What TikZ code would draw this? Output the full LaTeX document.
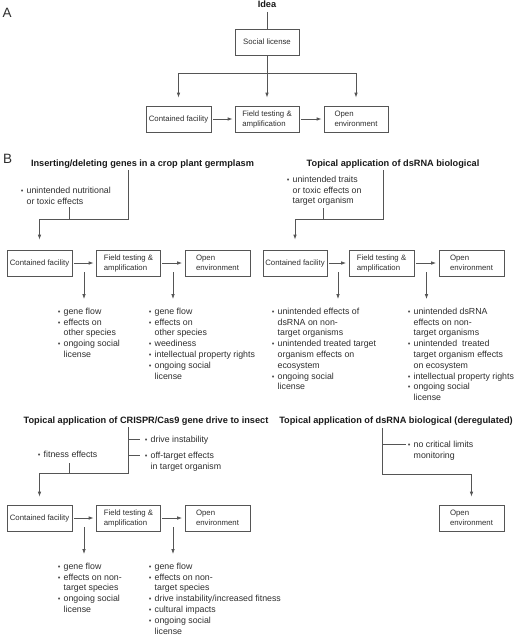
\documentclass[tikz,border=0pt]{standalone}
\usepackage{fontspec}
\setmainfont{Liberation Sans}
\usetikzlibrary{arrows.meta,calc}
\definecolor{linec}{HTML}{555555}
\definecolor{txtc}{HTML}{2E2E2E}
\definecolor{bulc}{HTML}{505050}
\newcommand\bul{\makebox[5.5pt][l]{\hspace*{-0.4pt}\textcolor{bulc}{\fontsize{7.5}{7.5}\selectfont\textbullet}}}
\newcommand\ind{\hspace*{5.5pt}}
\newcommand\fst{\rule{0pt}{7pt}}
\begin{document}
\begin{tikzpicture}[x=1pt,y=-1pt,
 box/.style={draw=linec,line width=0.75pt,minimum width=65pt,minimum height=26pt,inner sep=0pt,align=left,text=txtc,font=\fontsize{7.8}{10}\selectfont},
 ln/.style={draw=linec,line width=0.75pt},
 arr/.style={ln,-{Latex[length=5pt,width=3.6pt]}},
 ttl/.style={inner sep=0pt,anchor=base,text=black!90,font=\bfseries\fontsize{9.2}{11}\selectfont},
 lst/.style={inner sep=0pt,anchor=north west,align=left,text=txtc,font=\fontsize{8.8}{10.8}\selectfont},
 panel/.style={inner sep=0pt,anchor=base west,text=txtc,font=\fontsize{13.5}{14}\selectfont}]
\useasboundingbox (0,0) rectangle (520,635);

% ---------------- Panel A ----------------
\node[panel] (A) at (2.5,17.3) {A};
\node[ttl] (idea) at (267,7.5) {Idea};
\node[box,minimum width=64pt] (soc) at (267,42) {Social license};
\node[box] (cfA) at (178.5,119) {Contained facility};
\node[box,minimum width=64pt] (ftA) at (267,119) {Field testing \&\\amplification};
\node[box,minimum width=64pt] (oeA) at (356,119) {Open\\environment};
\coordinate (hA) at (267,73);
\draw[ln,shorten <=4pt] (idea.south) -- (soc.north);
\draw[ln] (soc.south) -- (hA);
\draw[ln] (cfA.north |- hA) -- (oeA.north |- hA);
\foreach \b in {cfA,ftA,oeA} \draw[arr,shorten >=8pt] (\b.north |- hA) -- (\b.north);
\draw[arr,shorten <=1.5pt,shorten >=2pt] (cfA) -- (ftA);
\draw[arr,shorten <=1.5pt,shorten >=2pt] (ftA) -- (oeA);

% ---------------- Panel B ----------------
\node[panel] (B) at (3,163) {B};

% Section 1
\node[ttl] (t1) at (142.5,166.5) {Inserting/deleting genes in a crop plant germplasm};
\node[lst] (n1) at (21,186) {\fst\bul unintended nutritional\\\ind or toxic effects};
\node[box] (cf1) at (39.5,263) {Contained facility};
\node[box,minimum width=64pt] (ft1) at (128.5,263) {Field testing \&\\amplification};
\node[box] (oe1) at (217.5,263) {Open\\environment};
\coordinate (j1) at (39.5,219);
\coordinate (s1) at (69,207);
\draw[ln,shorten <=1.5pt] (t1.south -| ft1.north) |- (j1);
\draw[ln] (s1) -- (s1 |- j1);
\draw[arr,shorten >=10pt] (j1) -- (cf1.north);
\draw[arr,shorten <=1.5pt,shorten >=2.5pt] (cf1) -- (ft1);
\draw[arr,shorten <=1.5pt,shorten >=2.5pt] (ft1) -- (oe1);
\coordinate (d1a) at (84,272); \coordinate (d1b) at (84,299);
\coordinate (d1c) at (173,272); \coordinate (d1d) at (173,299);
\draw[arr] (d1a) -- (d1b);
\draw[arr] (d1c) -- (d1d);
\node[lst] (l1a) at (58,307) {\fst\bul gene flow\\\bul effects on\\\ind other species\\\bul ongoing social\\\ind license};
\node[lst] (l1b) at (149,307) {\fst\bul gene flow\\\bul effects on\\\ind other species\\\bul weediness\\\bul intellectual property rights\\\bul ongoing social\\\ind license};

% Section 2
\node[ttl] (t2) at (393,166.5) {Topical application of dsRNA biological};
\node[lst] (n2) at (287,175) {\fst\bul unintended traits\\\ind or toxic effects on\\\ind target organism};
\node[box,minimum width=64pt] (cf2) at (295,263) {Contained facility};
\node[box] (ft2) at (381.5,263) {Field testing \&\\amplification};
\node[box] (oe2) at (471.5,263) {Open\\environment};
\coordinate (j2) at (295,219);
\coordinate (v2) at (383,170);
\coordinate (s2) at (323,208);
\draw[ln] (v2) |- (j2);
\draw[ln] (s2) -- (s2 |- j2);
\draw[arr,shorten >=10pt] (j2) -- (cf2.north);
\draw[arr,shorten <=1.5pt,shorten >=2.5pt] (cf2) -- (ft2);
\draw[arr,shorten <=1.5pt,shorten >=2.5pt] (ft2) -- (oe2);
\coordinate (d2a) at (338,272); \coordinate (d2b) at (338,299);
\coordinate (d2c) at (426.5,272); \coordinate (d2d) at (426.5,299);
\draw[arr] (d2a) -- (d2b);
\draw[arr] (d2c) -- (d2d);
\node[lst] (l2a) at (272,307) {\fst\bul unintended effects of\\\ind dsRNA on non-\\\ind target organisms\\\bul unintended treated target\\\ind organism effects on\\\ind ecosystem\\\bul ongoing social\\\ind license};
\node[lst] (l2b) at (408,307) {\fst\bul unintended dsRNA\\\ind effects on non-\\\ind target organisms\\\bul unintended\ \ treated\\\ind target organism effects\\\ind on ecosystem\\\bul intellectual property rights\\\bul ongoing social\\\ind license};

% Section 3
\node[ttl] (t3) at (146,423.5) {Topical application of CRISPR/Cas9 gene drive to insect};
\node[lst] (n3a) at (38,450) {\fst\bul fitness effects};
\node[lst] (n3b) at (145,435) {\fst\bul drive instability};
\node[lst] (n3c) at (145,451) {\fst\bul off-target effects\\\ind in target organism};
\node[box] (cf3) at (39.5,518) {Contained facility};
\node[box,minimum width=64pt] (ft3) at (128.5,518) {Field testing \&\\amplification};
\node[box] (oe3) at (217.5,518) {Open\\environment};
\coordinate (j3) at (39.5,473);
\coordinate (s3) at (69,463);
\coordinate (b3a) at (140,439);
\coordinate (b3b) at (140,455);
\draw[ln,shorten <=1.5pt] (t3.south -| ft3.north) |- (j3);
\draw[ln] (b3a -| ft3.north) -- (b3a);
\draw[ln] (b3b -| ft3.north) -- (b3b);
\draw[ln] (s3) -- (s3 |- j3);
\draw[arr,shorten >=8pt] (j3) -- (cf3.north);
\draw[arr,shorten <=1.5pt,shorten >=2.5pt] (cf3) -- (ft3);
\draw[arr,shorten <=1.5pt,shorten >=2.5pt] (ft3) -- (oe3);
\coordinate (d3a) at (84,527); \coordinate (d3b) at (84,554);
\coordinate (d3c) at (173,527); \coordinate (d3d) at (173,554);
\draw[arr] (d3a) -- (d3b);
\draw[arr] (d3c) -- (d3d);
\node[lst] (l3a) at (58,562) {\fst\bul gene flow\\\bul effects on non-\\\ind target species\\\bul ongoing social\\\ind license};
\node[lst] (l3b) at (149,562) {\fst\bul gene flow\\\bul effects on non-\\\ind target species\\\bul drive instability/increased fitness\\\bul cultural impacts\\\bul ongoing social\\\ind license};

% Section 4
\node[ttl] (t4) at (396,423.5) {Topical application of dsRNA biological (deregulated)};
\node[lst] (n4) at (408,440) {\fst\bul no critical limits\\\ind monitoring};
\node[box] (oe4) at (471.5,518) {Open\\environment};
\coordinate (v4) at (382,428);
\coordinate (j4) at (471.5,474);
\coordinate (b4) at (406,444);
\draw[ln] (v4) |- (j4);
\draw[ln] (b4 -| v4) -- (b4);
\draw[arr,shorten >=8pt] (j4) -- (oe4.north);
\end{tikzpicture}
\end{document}
